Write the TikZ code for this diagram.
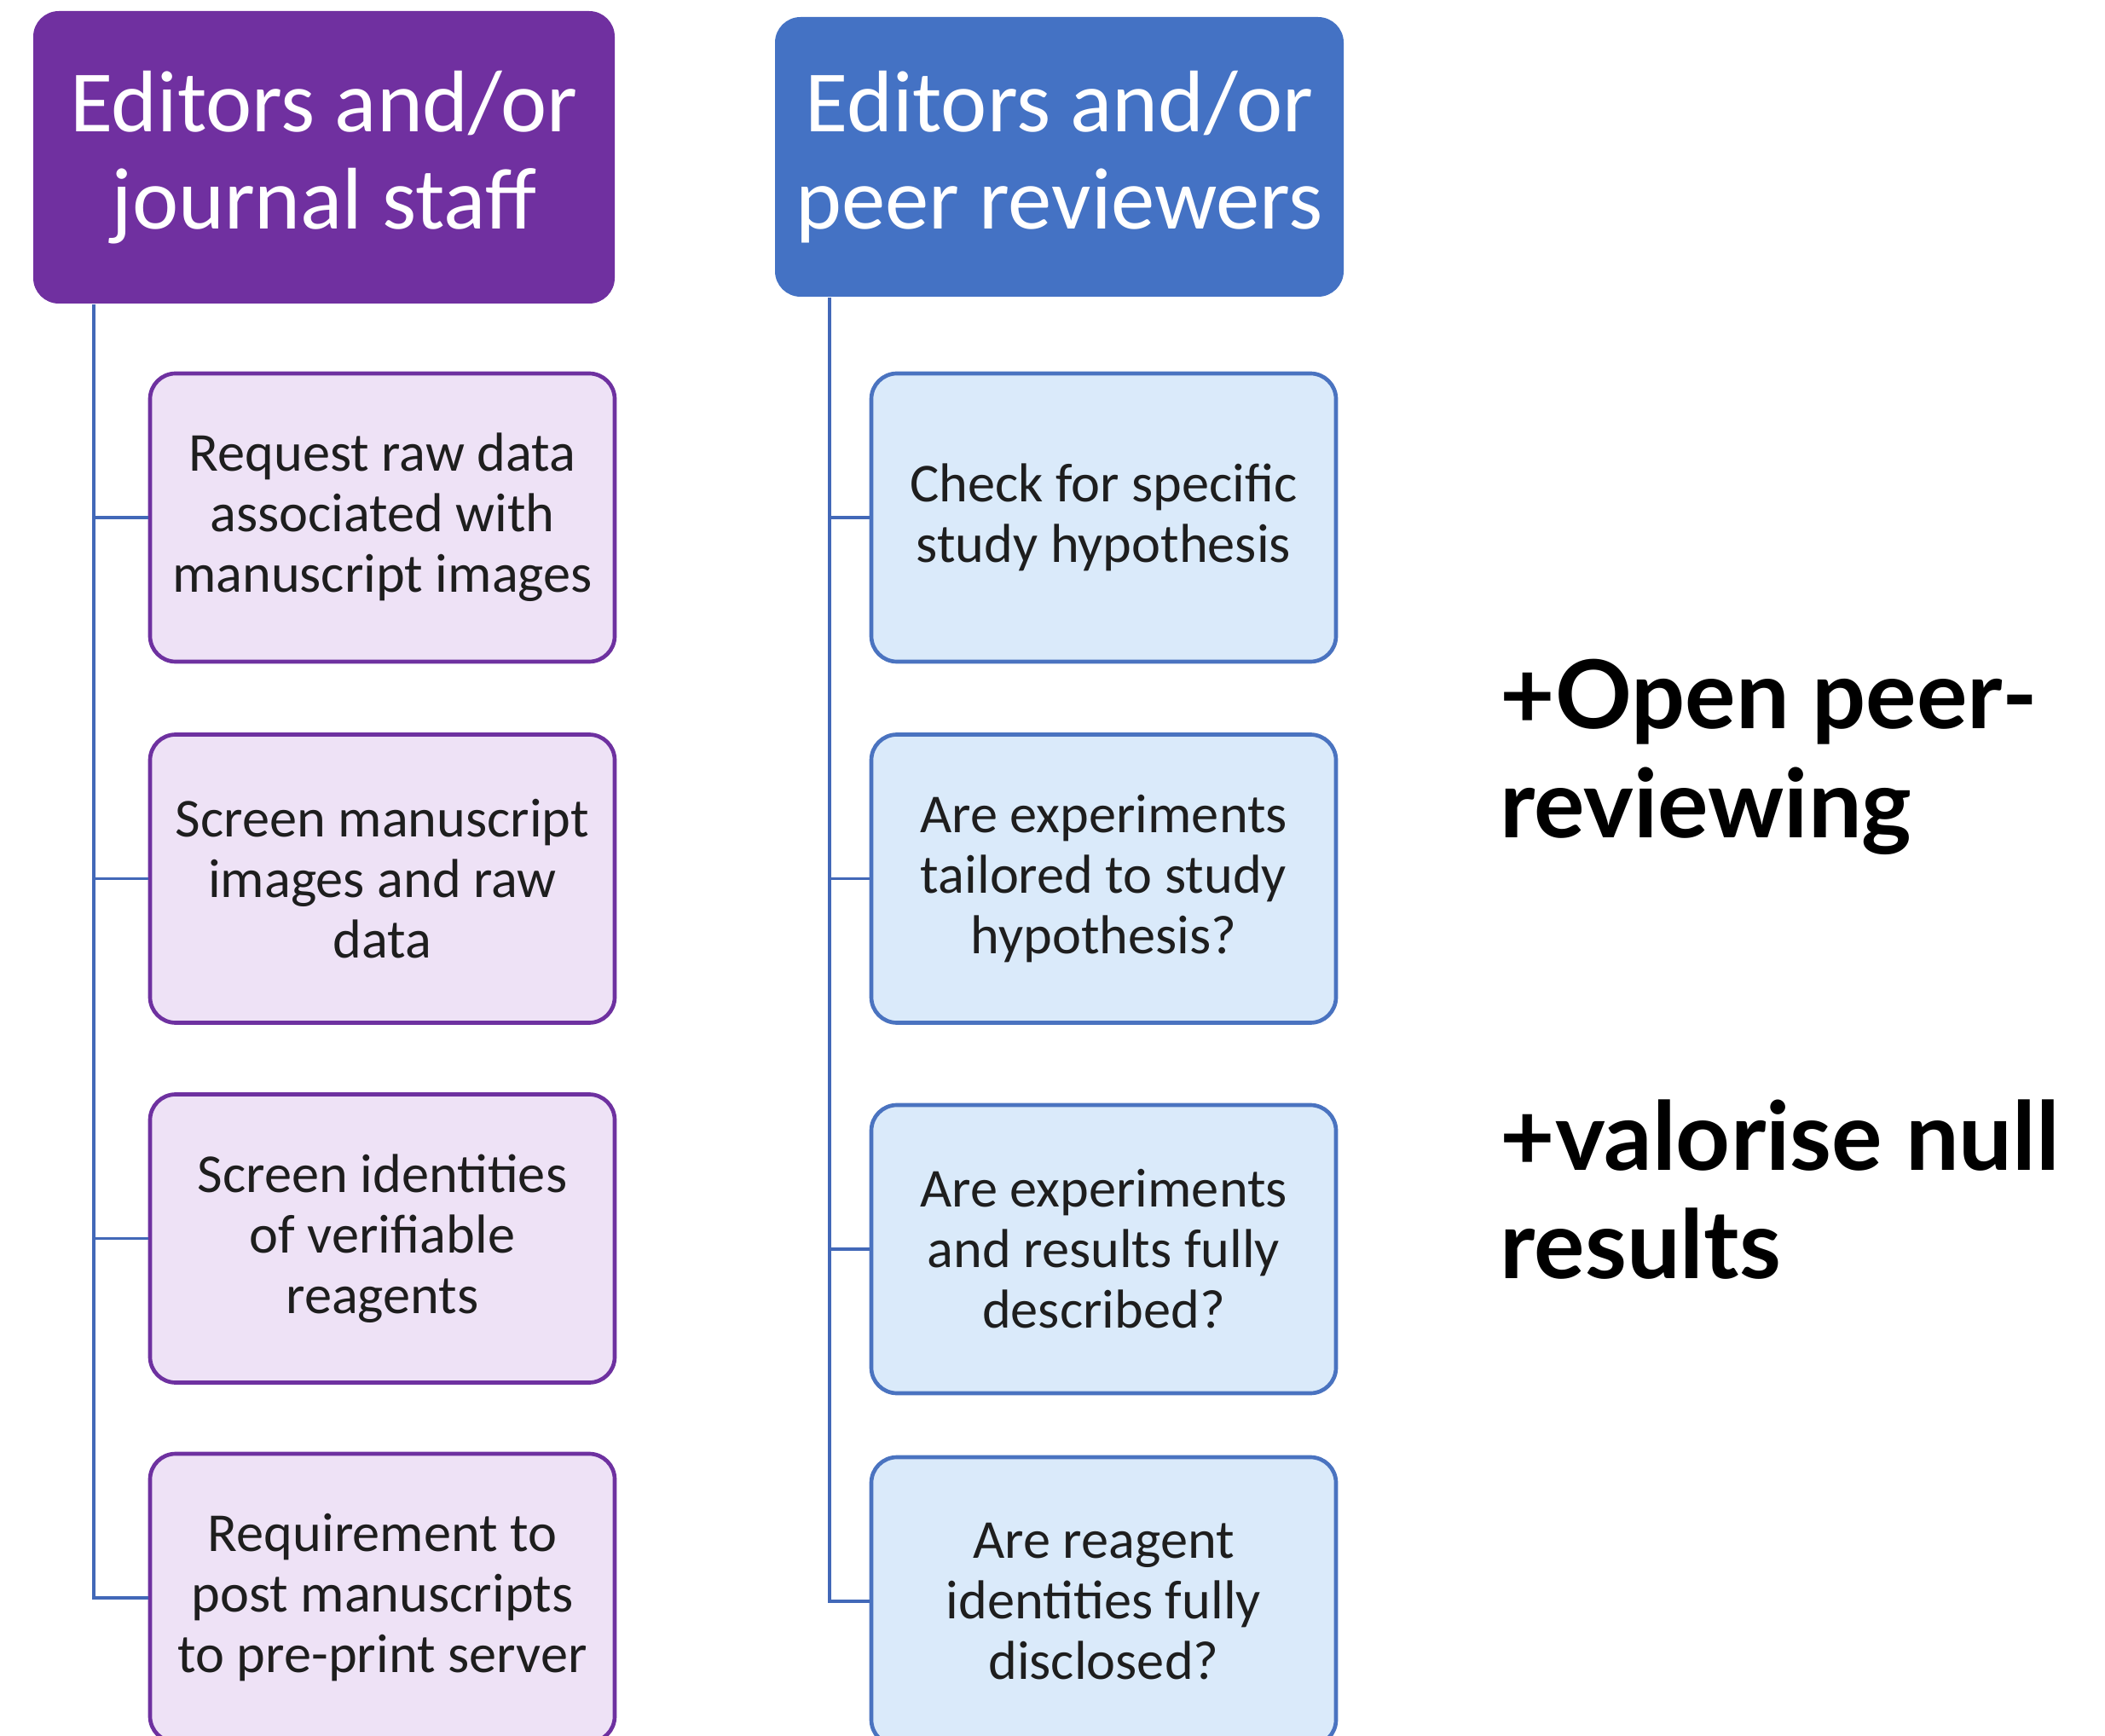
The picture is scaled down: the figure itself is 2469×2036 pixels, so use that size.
\documentclass[tikz,border=0pt]{standalone}
\usepackage{fontspec}
\setmainfont{Carlito}
\newfontfamily\rfont{Lato}
\definecolor{hpurple}{HTML}{7030A0}
\definecolor{hblue}{HTML}{4472C4}
\definecolor{cpfill}{HTML}{EEE2F6}
\definecolor{cpdraw}{HTML}{6E31A0}
\definecolor{cbfill}{HTML}{DAEAFA}
\definecolor{cbdraw}{HTML}{4A73C0}
\definecolor{lineblue}{HTML}{4268B8}
\definecolor{textdark}{HTML}{1E1E1E}
\begin{document}
\begin{tikzpicture}[x=0.3pt,y=-0.3pt,
  hdr/.style={rounded corners=9pt, text=white, align=center, font=\fontsize{30.8}{34.2}\selectfont, inner sep=0pt},
  hdrP/.style={hdr, fill=hpurple, minimum width=204.6pt, minimum height=102.9pt},
  hdrB/.style={hdr, fill=hblue, minimum width=200.1pt, minimum height=98.4pt},
  child/.style={rounded corners=9pt, line width=1.4pt, align=center, text=textdark, font=\fontsize{19.3}{21.3}\selectfont, minimum width=163.5pt, minimum height=101.4pt, inner sep=0pt},
  childP/.style={child, draw=cpdraw, fill=cpfill},
  childB/.style={child, draw=cbdraw, fill=cbfill},
  conn/.style={draw=lineblue, line width=1pt},
  note/.style={font=\rfont\bfseries\fontsize{33.4}{38.2}\selectfont, align=left, anchor=west, inner sep=0pt}
]
\useasboundingbox (0,0) rectangle (2469,2036);
\fill[white] (0,0) rectangle (2469,2036);
\coordinate (tl) at (110,0);
\coordinate (tr) at (973,0);

\node[hdrP] (h1) at (380,184.5) {Editors and/or\\journal staff};
\node[hdrB] (h2) at (1242.5,184) {Editors and/or\\peer reviewers};

\node[childP] (l1) at (448.5,607) {Request raw data\\associated with\\manuscript images};
\node[childP] (l2) at (448.5,1030.5) {Screen manuscript\\images and raw\\data};
\node[childP] (l3) at (448.5,1452.5) {Screen identities\\of verifiable\\reagents};
\node[childP] (l4) at (448.5,1874) {Requirement to\\post manuscripts\\to pre-print server};

\node[childB] (r1) at (1294.5,607) {Check for specific\\study hypothesis};
\node[childB] (r2) at (1294.5,1030.5) {Are experiments\\tailored to study\\hypothesis?};
\node[childB] (r3) at (1294.5,1465) {Are experiments\\and results fully\\described?};
\node[childB] (r4) at (1294.5,1878) {Are reagent\\identities fully\\disclosed?};

\draw[conn] (h1.south -| tl) |- (l4.west);
\draw[conn] (tl |- l1.west) -- (l1.west);
\draw[conn] (tl |- l2.west) -- (l2.west);
\draw[conn] (tl |- l3.west) -- (l3.west);

\draw[conn] (h2.south -| tr) |- (r4.west);
\draw[conn] (tr |- r1.west) -- (r1.west);
\draw[conn] (tr |- r2.west) -- (r2.west);
\draw[conn] (tr |- r3.west) -- (r3.west);

\node[note] (n1) at (1759,888) {+Open peer-\\reviewing};
\node[note] (n2) at (1759,1395) {+valorise null\\results};
\end{tikzpicture}
\end{document}
